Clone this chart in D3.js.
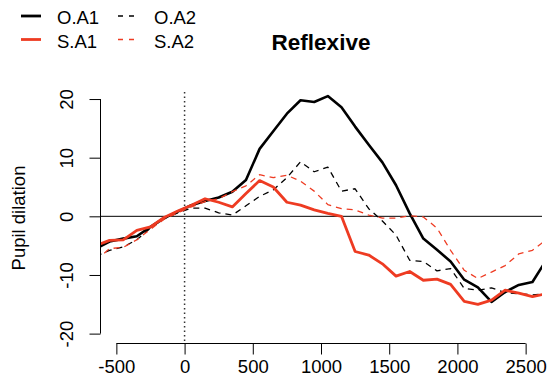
<!DOCTYPE html>
<html>
<head>
<meta charset="utf-8">
<title>Reflexive</title>
<style>
  body { margin: 0; background: #fff; }
  text { font-family: "Liberation Sans", Arial, sans-serif; }
</style>
<script src="https://d3js.org/d3.v7.min.js"></script>
</head>
<body>
<svg id="chart" width="549" height="392"></svg>
<script>
// time bins (ms), 100 ms wide, centred on -650 ... 2650
var times = [-650, -550, -450, -350, -250, -150, -50, 50, 150, 250, 350, 450, 550, 650, 750, 850, 950,
             1050, 1150, 1250, 1350, 1450, 1550, 1650, 1750, 1850, 1950, 2050, 2150, 2250, 2350, 2450, 2550, 2650];

var oA1 = [-5.5, -4.3, -3.8, -3.4, -1.8, -0.3, 0.8, 1.9, 2.6, 3.2, 4.2, 6.2, 11.5, 14.5, 17.5, 19.8, 19.5,
           20.5, 18.6, 15.3, 12.2, 9.2, 5.3, 0.5, -3.8, -5.7, -7.7, -10.8, -12.1, -14.6, -12.9, -11.7, -11.2, -7.5];
var oA2 = [-6.8, -5.8, -5.2, -4.0, -2.0, -0.4, 0.6, 1.4, 1.4, 0.6, 0.2, 1.8, 3.4, 4.5, 6.6, 9.3, 7.6,
           8.4, 4.3, 4.7, 1.3, -0.8, -3.2, -7.5, -7.7, -9.3, -8.9, -12.3, -12.6, -12.2, -13.0, -13.2, -13.4, -13.2];
var sA1 = [-5.0, -4.1, -4.0, -2.4, -1.8, -0.2, 0.9, 1.9, 3.0, 2.4, 1.6, 3.9, 6.1, 5.0, 2.4, 1.9, 1.1,
           0.5, 0.0, -6.0, -6.6, -8.1, -10.2, -9.4, -10.9, -10.7, -11.6, -14.5, -15.0, -14.3, -12.6, -13.1, -13.7, -13.2];
var sA2 = [-7.5, -5.5, -5.3, -4.0, -2.2, -0.5, 0.6, 1.6, 2.5, 3.0, 4.2, 5.2, 7.1, 6.6, 7.0, 6.0, 4.3,
           2.0, 1.3, 1.1, 0.2, -0.3, -0.3, 0.1, -0.1, -2.0, -5.8, -9.2, -10.6, -9.5, -8.4, -6.4, -5.8, -4.0];

var xTicks = [-500, 0, 500, 1000, 1500, 2000, 2500];
var yTicks = [-20, -10, 0, 10, 20];

var red = "#ee3b22";
var series = [
  {name: "O.A1", values: oA1, color: "#000", width: 2.6, dash: null},
  {name: "O.A2", values: oA2, color: "#000", width: 1.3, dash: "6,5"},
  {name: "S.A1", values: sA1, color: red, width: 2.8, dash: null},
  {name: "S.A2", values: sA2, color: red, width: 1.3, dash: "6,5"}
];

var svg = d3.select("#chart");
var pLeft = 100, pRight = 542, pTop = 92, pBottom = 343;

var x = d3.scaleLinear().domain([-620, 2620]).range([pLeft, pRight]);
var y = d3.scaleLinear().domain([-21.6, 21.2]).range([pBottom, pTop]);

svg.append("clipPath").attr("id", "plotclip")
  .append("rect")
  .attr("x", pLeft).attr("y", pTop)
  .attr("width", pRight - pLeft).attr("height", pBottom - pTop);

// zero line and stimulus onset
svg.append("line")
  .attr("x1", pLeft).attr("x2", pRight)
  .attr("y1", y(0)).attr("y2", y(0))
  .attr("stroke", "#000").attr("stroke-width", 1);
svg.append("line")
  .attr("x1", x(0)).attr("x2", x(0))
  .attr("y1", pTop).attr("y2", pBottom)
  .attr("stroke", "#333").attr("stroke-width", 1.5)
  .attr("stroke-dasharray", "1.5,3");

var line = d3.line()
  .x(function(d, i) { return x(times[i]); })
  .y(function(d) { return y(d); });

var g = svg.append("g").attr("clip-path", "url(#plotclip)");
series.forEach(function(s) {
  g.append("path")
    .attr("d", line(s.values))
    .attr("fill", "none")
    .attr("stroke", s.color)
    .attr("stroke-width", s.width)
    .attr("stroke-linejoin", "round")
    .attr("stroke-dasharray", s.dash);
});

// axes
var fmt = function(d) { return String(d); };
var xAxis = svg.append("g")
  .attr("transform", "translate(0," + (pBottom + 0.5) + ")")
  .call(d3.axisBottom(x).tickValues(xTicks).tickFormat(fmt).tickSize(11).tickSizeOuter(0).tickPadding(5));
xAxis.select(".domain").attr("d", "M" + x(-500) + ",0H" + x(2500));
xAxis.selectAll("text").attr("font-size", "18.5px").attr("fill", "#000").attr("dy", "0.71em")
  .attr("font-family", "Liberation Sans, Arial, sans-serif");

var yAxis = svg.append("g")
  .attr("transform", "translate(" + (pLeft + 0.5) + ",0)")
  .call(d3.axisLeft(y).tickValues(yTicks).tickFormat(fmt).tickSize(11).tickSizeOuter(0));
yAxis.select(".domain").attr("d", "M0," + y(-20) + "V" + y(20));
yAxis.selectAll(".tick text")
  .attr("x", null).attr("dy", null)
  .attr("transform", "translate(-28,0) rotate(-90)")
  .attr("text-anchor", "middle")
  .attr("font-size", "18.5px").attr("fill", "#000")
  .attr("font-family", "Liberation Sans, Arial, sans-serif");
svg.selectAll(".tick line").attr("stroke", "#000");
svg.selectAll(".domain").attr("stroke", "#000");

svg.append("text")
  .attr("transform", "translate(25," + ((pTop + pBottom) / 2 + 0.5) + ") rotate(-90)")
  .attr("text-anchor", "middle")
  .attr("font-size", "18.5px")
  .text("Pupil dilation");

svg.append("text")
  .attr("x", (pLeft + pRight) / 2).attr("y", 49.5)
  .attr("text-anchor", "middle")
  .attr("font-size", "22.5px").attr("font-weight", "bold")
  .text("Reflexive");

// legend, two columns
var legendPos = [[21, 16], [118, 16], [21, 39.5], [118, 39.5]];
series.forEach(function(s, i) {
  var p = legendPos[i];
  svg.append("line")
    .attr("x1", p[0]).attr("x2", p[0] + 20)
    .attr("y1", p[1]).attr("y2", p[1])
    .attr("stroke", s.color)
    .attr("stroke-width", s.dash ? 1.5 : 2.8)
    .attr("stroke-dasharray", s.dash ? "5,6" : null);
  svg.append("text")
    .attr("x", p[0] + 36).attr("y", p[1] + 8)
    .attr("font-size", "18.5px")
    .text(s.name);
});
</script>
</body>
</html>
